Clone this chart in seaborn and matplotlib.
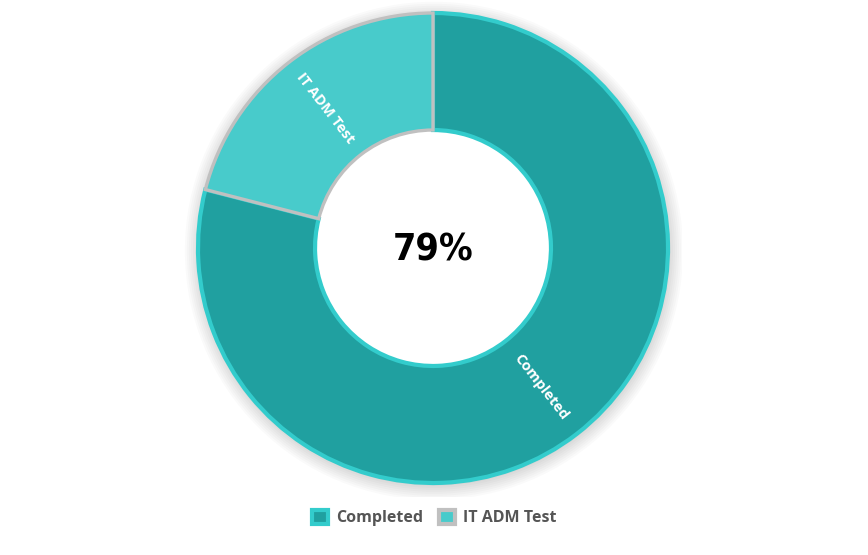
import numpy as np
import matplotlib
matplotlib.use("Agg")
import matplotlib.pyplot as plt
import seaborn as sns
from matplotlib.patches import Patch, Circle

# dados do gráfico
categorias = ["Completed", "IT ADM Test"]
valores = [79, 21]
cores_preenchimento = ["#20a0a0", "#48cbcb"]
cores_borda = ["#33cccc", "#c0c0c0"]

sns.set_theme(style="white")
plt.rcParams["font.family"] = ["Open Sans", "DejaVu Sans"]

fig = plt.figure(figsize=(8.68, 5.55), dpi=100)
# eixo posicionado para que o centro fique em (433, 248) px e o raio ~235 px
lim = 1.06
raio_px = 235
lado = 2 * lim * raio_px
ax = fig.add_axes([(433 - lado / 2) / 868, (555 - 248 - lado / 2) / 555,
                   lado / 868, lado / 555])

fatias, _ = ax.pie(valores, startangle=90, counterclock=False, radius=1.0,
                   colors=cores_preenchimento,
                   wedgeprops=dict(width=0.498))
for k, w in enumerate(fatias):
    w.set_edgecolor(cores_borda[k])
    w.set_linewidth(3.0 if k == 0 else 2.4)
    w.set_zorder(1 + k)

# sombra suave em volta do donut
for r in np.linspace(1.06, 1.0, 8):
    ax.add_patch(Circle((0.004, -0.012), r, facecolor="#000000", alpha=0.018,
                        edgecolor="none", zorder=0))
ax.add_patch(Circle((0, 0), 0.5, facecolor="white", edgecolor="none", zorder=0.5))

ax.set_xlim(-lim, lim)
ax.set_ylim(-lim, lim)
ax.set_aspect("equal")
ax.axis("off")

# rótulos rotacionados ao longo do raio
r_meio = 1.0 - 0.498 / 2
for k, w in enumerate(fatias):
    ang = np.deg2rad((w.theta1 + w.theta2) / 2)
    x, y = r_meio * np.cos(ang), r_meio * np.sin(ang)
    rot = np.rad2deg(ang)
    while rot > 90:
        rot -= 180
    while rot < -90:
        rot += 180
    ax.text(x, y, categorias[k], color="white", fontsize=10.5, fontweight="bold",
            rotation=rot, rotation_mode="anchor", ha="center", va="center", zorder=5)

# valor central
ax.text(0, -0.01, f"{valores[0]}%", fontsize=27, fontweight="heavy",
        family="DejaVu Sans", fontstretch="condensed",
        ha="center", va="center", color="black", zorder=5)

# legenda
handles = [Patch(facecolor=cores_preenchimento[k], edgecolor=cores_borda[k],
                 linewidth=3, label=categorias[k]) for k in range(len(categorias))]
leg = fig.legend(handles=handles, loc="center", bbox_to_anchor=(434 / 868, 1 - 518 / 555),
                 ncol=2, frameon=False, handlelength=1.0, handleheight=1.0,
                 handletextpad=0.5, columnspacing=1.0,
                 prop={"size": 11.5, "weight": "bold"})
for t in leg.get_texts():
    t.set_color("#555555")

plt.savefig("out.png", dpi=100)
